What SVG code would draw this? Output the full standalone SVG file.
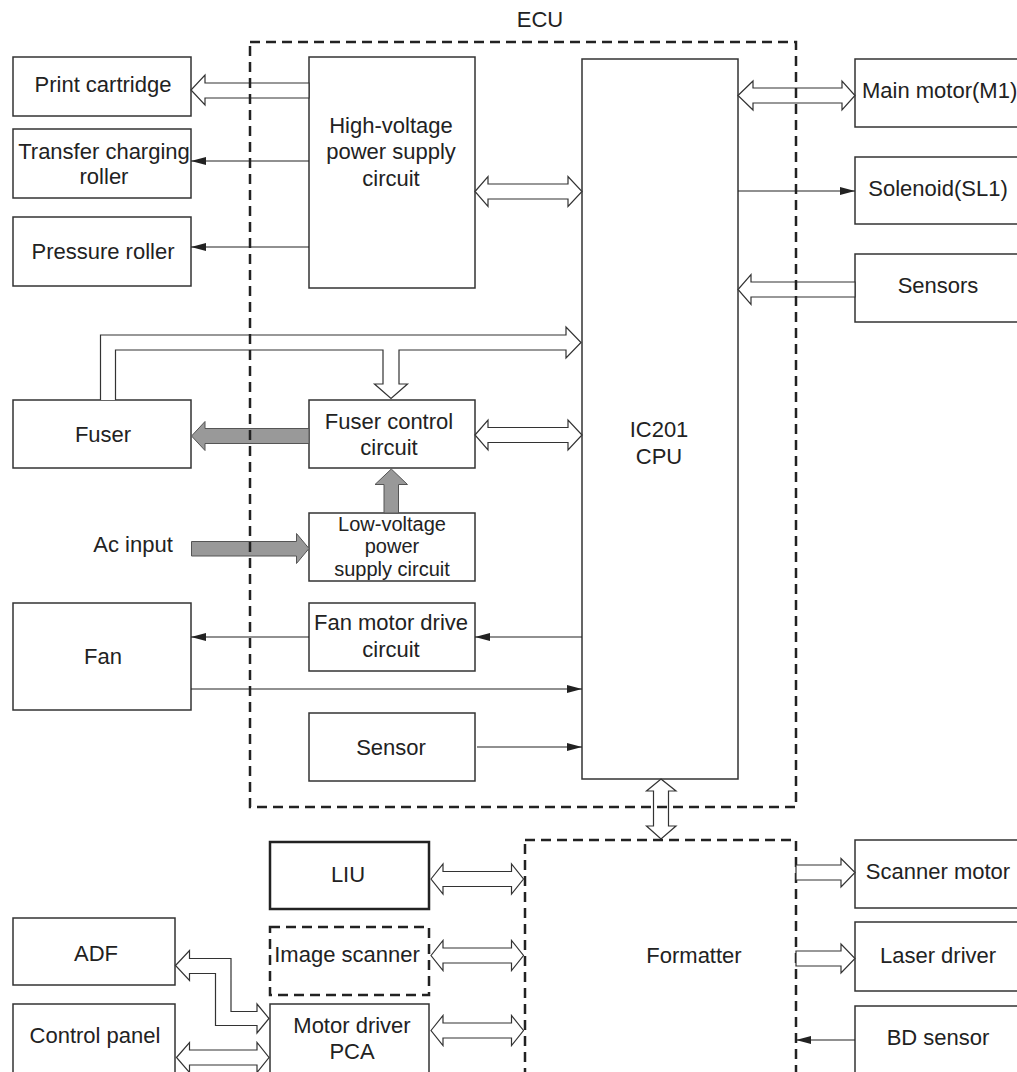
<svg xmlns="http://www.w3.org/2000/svg" width="1017" height="1072" viewBox="0 0 1017 1072">
<style>
.box{fill:#fff;stroke:#333;stroke-width:1.5}
.boxb{fill:#fff;stroke:#222;stroke-width:2.5}
.dash{fill:none;stroke:#222;stroke-width:2.5;stroke-dasharray:10 6}
.t{font-family:"Liberation Sans",Arial,Helvetica,sans-serif;font-size:22px;fill:#222;text-anchor:middle}
.ts{font-size:20px}
.hollow{fill:#fff;stroke:#333;stroke-width:1.2;stroke-linejoin:miter}
.gray{fill:#999;stroke:#555;stroke-width:1}
.line{fill:none;stroke:#222;stroke-width:1.2}
</style>
<defs>
<marker id="ah" markerUnits="userSpaceOnUse" markerWidth="15" markerHeight="8" refX="15" refY="4" orient="auto">
<path d="M0,0 L15,4 L0,8 z" fill="#222"/>
</marker>
</defs>
<rect width="1017" height="1072" fill="#fff"/>

<g id="print-cartridge"><rect class="box" x="13" y="57" width="178" height="59"/><text class="t" x="103" y="92">Print cartridge</text></g>
<g id="transfer-roller"><rect class="box" x="13" y="129" width="178" height="69"/><text class="t" x="104" y="159">Transfer charging</text><text class="t" x="104" y="184">roller</text></g>
<g id="pressure-roller"><rect class="box" x="13" y="217" width="178" height="69"/><text class="t" x="103" y="259">Pressure roller</text></g>
<g id="hv-power"><rect class="box" x="309" y="57" width="166" height="231"/><text class="t" x="391" y="133">High-voltage</text><text class="t" x="391" y="159">power supply</text><text class="t" x="391" y="186">circuit</text></g>
<g id="cpu"><rect class="box" x="582" y="59" width="156" height="720"/><text class="t" x="659" y="437">IC201</text><text class="t" x="659" y="464">CPU</text></g>
<g id="main-motor"><rect class="box" x="855" y="59" width="175" height="68"/><text class="t" x="862" y="98" style="text-anchor:start">Main motor(M1)</text></g>
<g id="solenoid"><rect class="box" x="855" y="157" width="175" height="67"/><text class="t" x="938" y="196">Solenoid(SL1)</text></g>
<g id="sensors"><rect class="box" x="855" y="254" width="175" height="68"/><text class="t" x="938" y="293">Sensors</text></g>
<g id="fuser"><rect class="box" x="13" y="400" width="178" height="68"/><text class="t" x="103" y="442">Fuser</text></g>
<g id="fuser-control"><rect class="box" x="309" y="400" width="166" height="68"/><text class="t" x="389" y="429">Fuser control</text><text class="t" x="389" y="455">circuit</text></g>
<g id="lv-power"><rect class="box" x="309" y="513" width="166" height="68"/><text class="t ts" x="392" y="530.5">Low-voltage</text><text class="t ts" x="392" y="553">power</text><text class="t ts" x="392" y="575.5">supply circuit</text></g>
<g id="ac-input"><text class="t" x="133" y="552">Ac input</text></g>
<g id="fan"><rect class="box" x="13" y="603" width="178" height="107"/><text class="t" x="103" y="664">Fan</text></g>
<g id="fan-motor-drive"><rect class="box" x="309" y="603" width="166" height="68"/><text class="t" x="391" y="630">Fan motor drive</text><text class="t" x="391" y="657">circuit</text></g>
<g id="sensor"><rect class="box" x="309" y="713" width="166" height="68"/><text class="t" x="391" y="755">Sensor</text></g>
<g id="liu"><rect class="boxb" x="270" y="842" width="159" height="67"/><text class="t" x="348" y="882">LIU</text></g>
<g id="image-scanner"><rect x="270" y="927" width="159" height="68" fill="#fff" class="dash"/><text class="t" x="347" y="962">Image scanner</text></g>
<g id="motor-driver"><rect class="box" x="270" y="1004" width="159" height="80"/><text class="t" x="352" y="1033">Motor driver</text><text class="t" x="352" y="1059">PCA</text></g>
<g id="adf"><rect class="box" x="13" y="918" width="162" height="67"/><text class="t" x="96" y="961">ADF</text></g>
<g id="control-panel"><rect class="box" x="13" y="1004" width="162" height="80"/><text class="t" x="95" y="1043">Control panel</text></g>
<g id="formatter"><rect class="dash" x="525" y="840" width="271" height="240"/><text class="t" x="694" y="963">Formatter</text></g>
<g id="scanner-motor"><rect class="box" x="855" y="840" width="175" height="68"/><text class="t" x="938" y="879">Scanner motor</text></g>
<g id="laser-driver"><rect class="box" x="855" y="922" width="175" height="69"/><text class="t" x="938" y="963">Laser driver</text></g>
<g id="bd-sensor"><rect class="box" x="855" y="1006" width="175" height="80"/><text class="t" x="938" y="1045">BD sensor</text></g>

<g id="connectors">
<polygon class="hollow" points="309,83 205,83 205,75 191,90 205,105 205,98 309,98"/>
<line class="line" x1="309" y1="161" x2="191" y2="161" marker-end="url(#ah)"/>
<line class="line" x1="309" y1="247" x2="191" y2="247" marker-end="url(#ah)"/>
<polygon class="hollow" points="475,191.5 488,176.5 488,184 568,184 568,176.5 582,191.5 568,206.5 568,199 488,199 488,206.5"/>
<polygon class="hollow" points="738,95.5 753,81 753,88 842,88 842,81 855,95.5 842,110 842,103 753,103 753,110"/>
<line class="line" x1="738" y1="191" x2="855" y2="191" marker-end="url(#ah)"/>
<polygon class="hollow" points="855,282 751,282 751,274.5 738,289.5 751,304.5 751,297 855,297"/>
<polyline class="hollow" points="100.5,400 100.5,335 566,335 566,327 581,342.5 566,358 566,350 399,350 399,384 407.5,384 391,398.5 374.5,384 383,384 383,350 115.5,350 115.5,400"/>
<polygon class="gray" points="309,428.5 205,428.5 205,421.5 191.5,436 205,450.5 205,443.5 309,443.5"/>
<polygon class="hollow" points="475,435 488,420 488,427.5 568,427.5 568,420 582,435 568,450 568,442.5 488,442.5 488,450"/>
<polygon class="gray" points="384,513 384,484.5 375,484.5 391.3,469 407.5,484.5 398.5,484.5 398.5,513"/>
<polygon class="gray" points="191.5,541.5 296.5,541.5 296.5,533.5 309,548.5 296.5,563.5 296.5,556 191.5,556"/>
<line class="line" x1="582" y1="637" x2="475" y2="637" marker-end="url(#ah)"/>
<line class="line" x1="309" y1="637" x2="191" y2="637" marker-end="url(#ah)"/>
<line class="line" x1="191" y1="689" x2="582" y2="689" marker-end="url(#ah)"/>
<line class="line" x1="477" y1="747" x2="582" y2="747" marker-end="url(#ah)"/>
<polygon class="hollow" points="661,779 676,791 668.5,791 668.5,826 676,826 661,839 646.5,826 653.5,826 653.5,791 646.5,791"/>
<polygon class="hollow" points="431,879 443,864 443,871.5 511.5,871.5 511.5,864 523.5,879 511.5,894 511.5,886.5 443,886.5 443,894"/>
<polygon class="hollow" points="431,955.5 443,940.5 443,948 511.5,948 511.5,940.5 523.5,955.5 511.5,970.5 511.5,963 443,963 443,970.5"/>
<polygon class="hollow" points="431,1030.5 443,1015.5 443,1023 511.5,1023 511.5,1015.5 523.5,1030.5 511.5,1045.5 511.5,1038 443,1038 443,1045.5"/>
<polygon class="hollow" points="176.5,1057.5 189.5,1042.5 189.5,1050 257,1050 257,1042.5 269,1057.5 257,1072.5 257,1065 189.5,1065 189.5,1072.5"/>
<polygon class="hollow" points="175.5,965.5 189.5,950.5 189.5,958.5 231,958.5 231,1011.5 257,1011.5 257,1004 269,1018.5 257,1033 257,1025.5 215.5,1025.5 215.5,973.5 189.5,973.5 189.5,980.5"/>
<polygon class="hollow" points="796,865 841,865 841,858.5 855,872.5 841,887 841,880 796,880"/>
<polygon class="hollow" points="796,951 841,951 841,944 855,958.5 841,973 841,966 796,966"/>
<line class="line" x1="855" y1="1040" x2="796" y2="1040" marker-end="url(#ah)"/>
</g>

<g id="ecu">
<rect class="dash" x="250" y="42" width="546" height="765"/>
<text class="t" x="540" y="27">ECU</text>
</g>
</svg>
